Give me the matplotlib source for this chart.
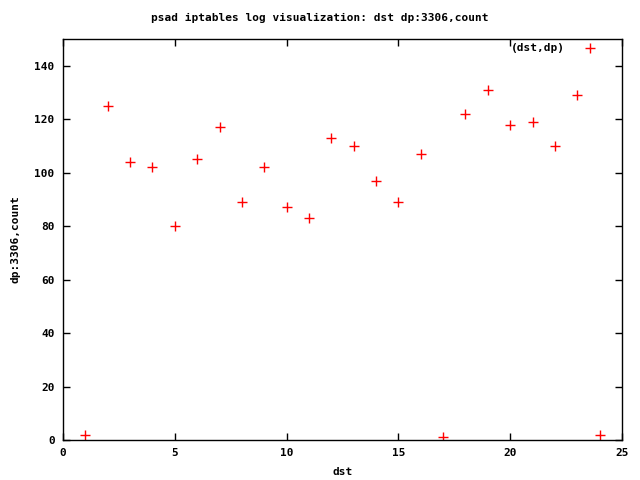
import matplotlib

matplotlib.use("Agg")
import matplotlib.pyplot as plt

# values
dst = list(range(1, 25))
count = [2, 125, 104, 102, 80, 105, 117, 89, 102, 87, 83, 113,
         110, 97, 89, 107, 1, 122, 131, 118, 119, 110, 129, 2]
x_ticks = [0, 5, 10, 15, 20, 25]
y_ticks = [0, 20, 40, 60, 80, 100, 120, 140]

plt.rcParams["font.family"] = ["DejaVu Sans Mono"]
plt.rcParams["font.weight"] = "bold"
plt.rcParams["font.size"] = 8

fig = plt.figure(figsize=(6.4, 4.8), dpi=100)
ax = fig.add_axes([63 / 640, 40 / 480, 559 / 640, 401 / 480])

ax.plot(dst, count, linestyle="none", marker="+", color="red",
        markersize=6.5, markeredgewidth=1.0, label="(dst,dp)")

ax.set_xlim(0, 25)
ax.set_ylim(0, 150)
ax.set_xticks(x_ticks)
ax.set_yticks(y_ticks)
ax.tick_params(direction="in", length=5, width=1, top=True, right=True,
               labelsize=8, pad=6)
for s in ax.spines.values():
    s.set_linewidth(1)

ax.set_xlabel("dst", fontweight="bold", labelpad=6)
ax.set_ylabel("dp:3306,count", fontweight="bold", labelpad=10)
fig.text(0.5, 1 - 18 / 480, "psad iptables log visualization: dst dp:3306,count",
         ha="center", va="center", fontweight="bold", fontsize=8)

ax.legend(loc="upper right", bbox_to_anchor=(0.9705, 1.0), frameon=False,
          markerfirst=False, handlelength=2.0, handletextpad=1.25,
          borderaxespad=0.0, fontsize=8)

fig.savefig("out.png", dpi=100)
